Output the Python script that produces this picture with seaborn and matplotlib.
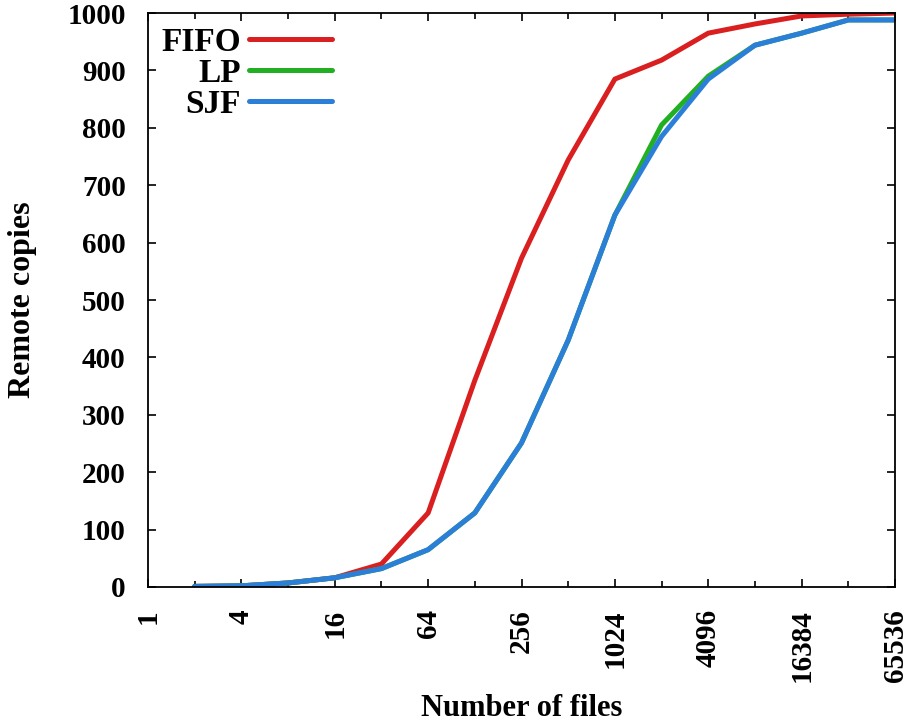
import numpy as np
import pandas as pd
import matplotlib
matplotlib.use("Agg")
import matplotlib.pyplot as plt
import seaborn as sns
from matplotlib.ticker import FixedLocator, NullFormatter

files = [2, 4, 8, 16, 32, 64, 128, 256, 512, 1024, 2048, 4096, 8192, 16384, 32768, 65536]
fifo = [1, 2, 7, 16, 40, 129, 360, 573, 744, 885, 918, 965, 981, 995, 998, 1000]
lp = [1, 2, 7, 16, 32, 65, 129, 251, 430, 648, 805, 890, 944, 965, 988, 988]
sjf = [1, 2, 7, 16, 32, 65, 129, 251, 430, 648, 785, 885, 944, 965, 988, 988]

xticks = [1, 4, 16, 64, 256, 1024, 4096, 16384, 65536]
yticks = list(range(0, 1001, 100))

series = {"FIFO": fifo, "LP": lp, "SJF": sjf}
df = pd.DataFrame([
    {"files": f, "copies": v, "policy": name}
    for name, vals in series.items() for f, v in zip(files, vals)
])

sns.set_style("ticks")
plt.rcParams['font.family'] = ['Liberation Serif', 'DejaVu Serif']
plt.rcParams['font.weight'] = 'bold'
for k in ['text.color', 'axes.labelcolor', 'xtick.color', 'ytick.color', 'axes.edgecolor']:
    plt.rcParams[k] = 'black'

fig = plt.figure(figsize=(9.08, 7.26), dpi=100)
ax = fig.add_axes([0.163, 0.1915, 0.8227, 0.7905])

palette = {"FIFO": "#d91f1f", "LP": "#22b022", "SJF": "#2b7fd9"}
sns.lineplot(data=df, x="files", y="copies", hue="policy", hue_order=["FIFO", "LP", "SJF"],
             palette=palette, linewidth=3.6, ax=ax, legend=True)

ax.set_xscale("log", base=2)
ax.set_xlim(1, 65536)
ax.set_ylim(0, 1000)
ax.xaxis.set_major_locator(FixedLocator(xticks))
ax.set_xticklabels([str(t) for t in xticks], rotation=90, fontsize=21, fontweight='bold')
ax.xaxis.set_minor_locator(FixedLocator([2 ** k for k in range(17)]))
ax.xaxis.set_minor_formatter(NullFormatter())
ax.set_yticks(yticks)
ax.set_yticklabels([str(t) for t in yticks], fontsize=21, fontweight='bold')
ax.tick_params(which='both', direction='in', top=True, right=True, length=6, width=1.2, colors='black')
ax.tick_params(axis='x', which='minor', length=4)
ax.tick_params(axis='x', which='major', pad=16)
ax.tick_params(axis='y', which='major', pad=16)
for s in ax.spines.values():
    s.set_linewidth(1.3)
    s.set_color('black')

ax.set_xlabel("Number of files", fontsize=22, fontweight='bold', labelpad=9)
ax.set_ylabel("Remote copies", fontsize=23, fontweight='bold', labelpad=22)

leg = ax.legend(loc='upper left', bbox_to_anchor=(0.004, 0.993), frameon=False, markerfirst=False,
                fontsize=24, handlelength=2.5, handletextpad=0.25, borderaxespad=0.1, borderpad=0.2,
                labelspacing=0.0, title=None)
for t in leg.get_texts():
    t.set_fontweight('bold')
for h in leg.get_lines():
    h.set_linewidth(3.6)

fig.savefig("out.png", dpi=100)
